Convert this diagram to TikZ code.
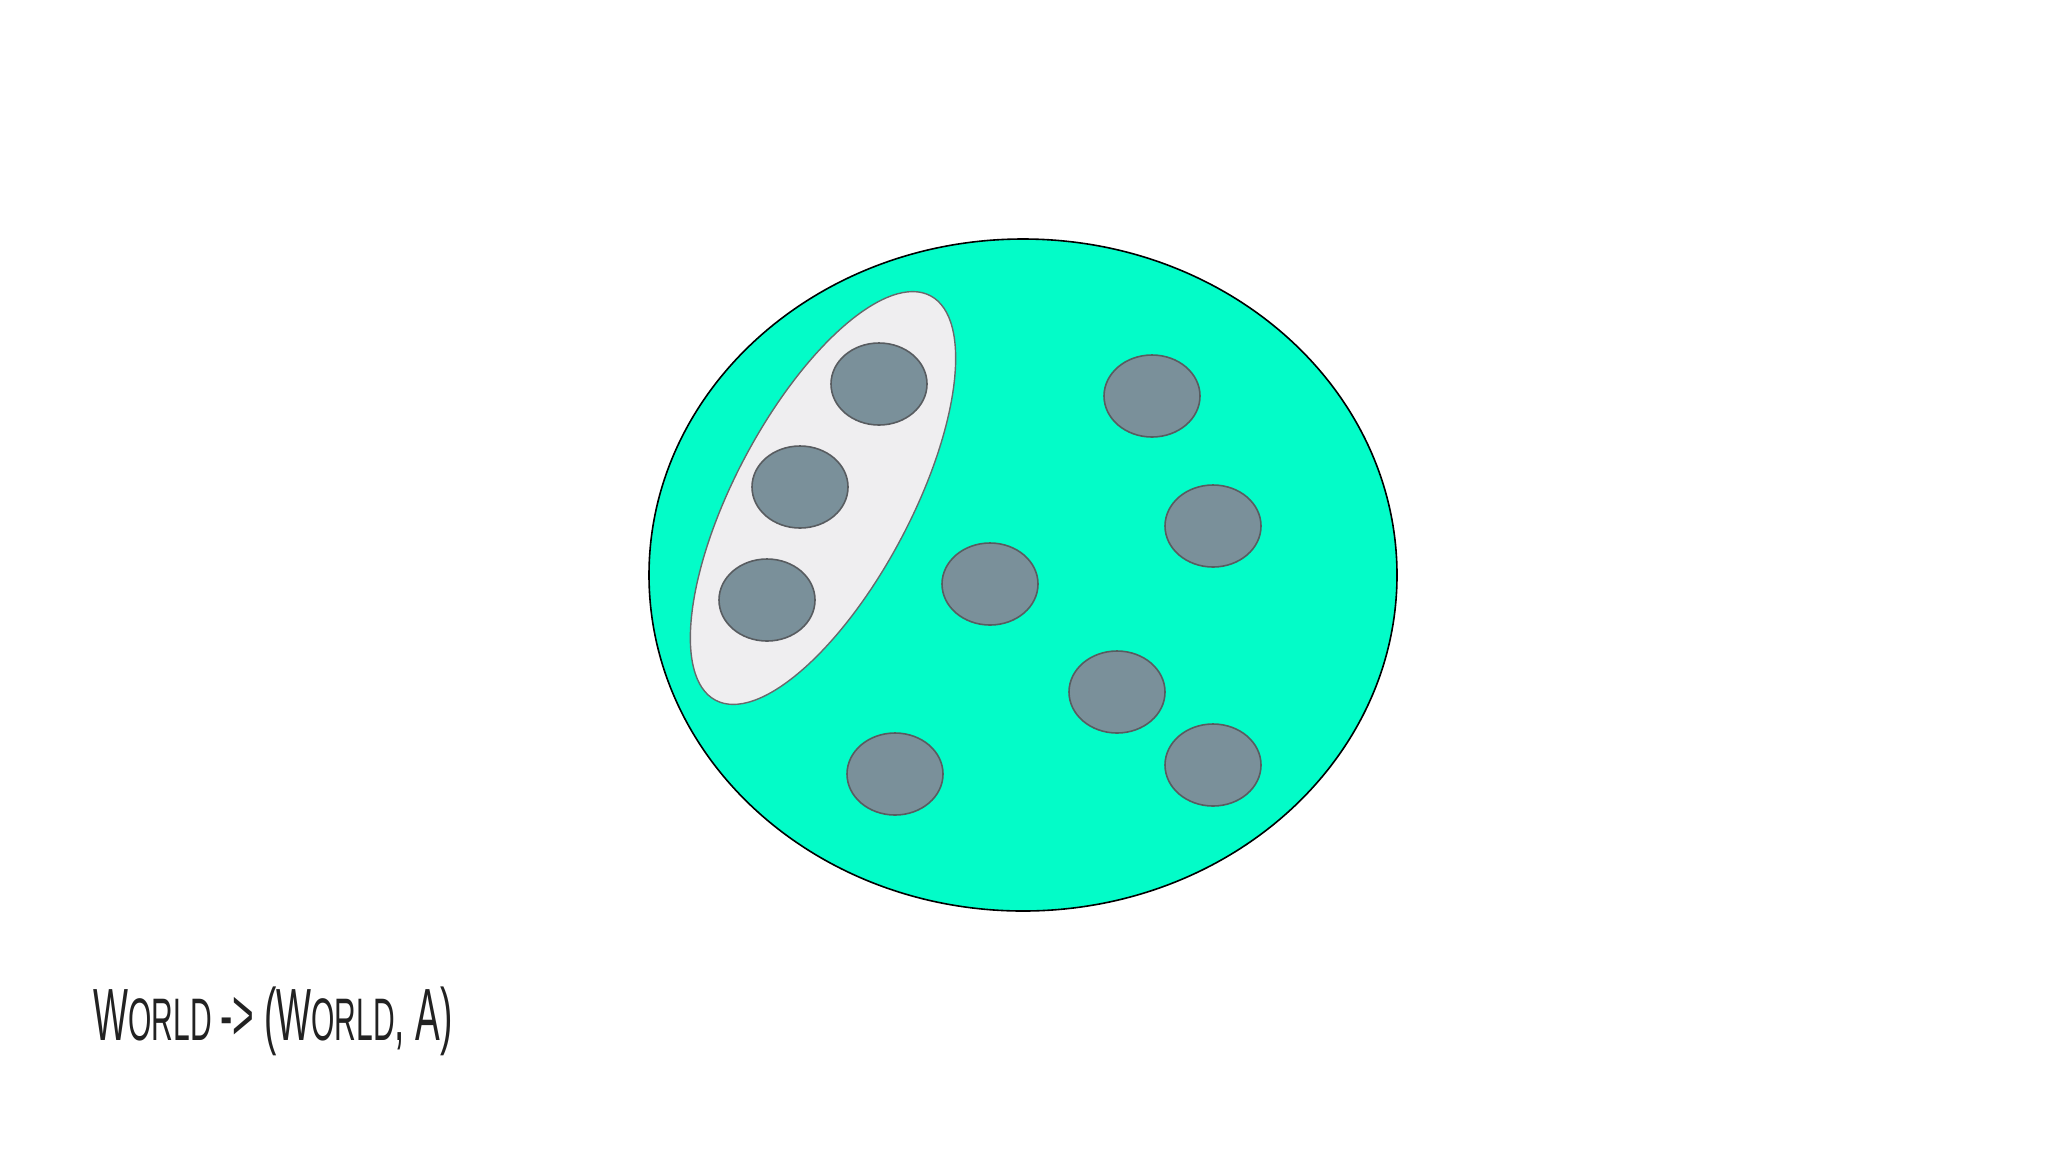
\documentclass[tikz,border=0pt]{standalone}
\usepackage{fontspec}
\setmainfont{Liberation Sans}
\definecolor{worldteal}{RGB}{3,252,200}
\definecolor{grpfill}{RGB}{239,238,240}
\definecolor{grpline}{RGB}{105,105,108}
\definecolor{thingfill}{RGB}{122,144,154}
\definecolor{thingline}{RGB}{88,92,96}
\definecolor{inkdark}{RGB}{34,34,34}
\newcommand{\bigsc}{\fontsize{37}{40}\selectfont}
\newcommand{\smallsc}{\fontsize{30}{34}\selectfont}

\begin{document}
\begin{tikzpicture}[x=0.5pt,y=-0.5pt,
  world/.style={draw=black, line width=0.8pt, fill=worldteal},
  grp/.style={draw=grpline, line width=0.7pt, fill=grpfill},
  thing/.style={draw=thingline, line width=0.8pt, fill=thingfill}]
  \useasboundingbox[fill=white] (0,0) rectangle (2048,1152);
  % the world
  \draw[world] (1023,575) ellipse [x radius=374, y radius=336];
  % the part that is picked out
  \begin{scope}[shift={(823,498)}, rotate=62]
    \draw[grp] (0,0) ellipse [x radius=229, y radius=88];
  \end{scope}
  % the things in it
  \foreach \cx/\cy [count=\i] in {879/384, 800/487, 767/600, 990/584, 1152/396,
      1213/526, 1117/692, 1213/765, 895/774}
    \draw[thing] (\cx,\cy) ellipse [x radius=48, y radius=41];
  \node[anchor=base west, inner sep=0pt, text=inkdark] (sig) at (93,1040)
    {\scalebox{0.5}[1]{\bigsc W\smallsc ORLD \bigsc -> (W\smallsc ORLD\bigsc , A)}};
\end{tikzpicture}
\end{document}
